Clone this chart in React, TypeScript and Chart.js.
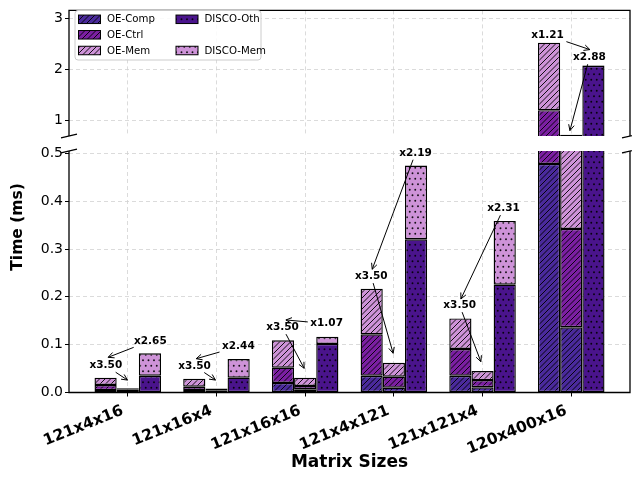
import React, { useEffect, useRef } from 'react';
import { Chart, registerables } from 'chart.js';

Chart.register(...registerables);

// ---------------- data ----------------
const categories = ['121x4x16', '121x16x4', '121x16x16', '121x4x121', '121x121x4', '120x400x16'];

// baseline OE bar (left bar of each group)
const oeComp = [0.005, 0.005, 0.020, 0.035, 0.035, 0.478];
const oeCtrl = [0.0107, 0.007, 0.032, 0.0867, 0.056, 0.728];
const oeMem = [0.0153, 0.0167, 0.057, 0.0953, 0.064, 1.324];

// optimised OE bar (middle bar of each group)
const optComp = [0.003, 0.0035, 0.0067, 0.010, 0.011, 0.1364];
const optCtrl = [0.0025, 0.0015, 0.0069, 0.023, 0.015, 0.2056];
const optMem = [0.0034, 0.0032, 0.0174, 0.029, 0.019, 0.381];

// DISCO bar (right bar of each group)
const discoOth = [0.035, 0.031, 0.1015, 0.3205, 0.2255, 2.075];
const discoMem = [0.047, 0.039, 0.0151, 0.154, 0.1333, 0.01];

const lowerTicks = [0, 0.1, 0.2, 0.3, 0.4, 0.5];
const upperTicks = [1, 2, 3];
const lowerLimits = [0, 0.505];
const upperLimits = [0.7, 3.1625];
const xLimits = [-0.6625, 5.6625];

// annotations (text position + arrow head, in data units)
const lowerNotes = [
  { label: 'x3.50', tx: -0.247, ty: 0.056, hx: -0.003, hy: 0.026 },
  { label: 'x2.65', tx: 0.255, ty: 0.108, hx: -0.221, hy: 0.0736 },
  { label: 'x3.50', tx: 0.753, ty: 0.0554, hx: 0.989, hy: 0.026 },
  { label: 'x2.44', tx: 1.247, ty: 0.0958, hx: 0.772, hy: 0.0707 },
  { label: 'x3.50', tx: 1.745, ty: 0.1356, hx: 1.989, hy: 0.0506 },
  { label: 'x1.07', tx: 2.242, ty: 0.144, hx: 1.783, hy: 0.1517 },
  { label: 'x3.50', tx: 2.746, ty: 0.2423, hx: 2.992, hy: 0.082 },
  { label: 'x2.19', tx: 3.244, ty: 0.5004, hx: 2.756, hy: 0.2577 },
  { label: 'x3.50', tx: 3.742, ty: 0.1816, hx: 3.981, hy: 0.0644 },
  { label: 'x2.31', tx: 4.236, ty: 0.3845, hx: 3.756, hy: 0.1956 },
];
const upperNotes = [
  { label: 'x1.21', tx: 4.733, ty: 2.675, hx: 5.21, hy: 2.394 },
  { label: 'x2.88', tx: 5.205, ty: 2.234, hx: 4.985, hy: 0.806 },
];

const legendEntries = [
  { label: 'OE-Comp', fill: 'comp', col: 0, row: 0 },
  { label: 'OE-Ctrl', fill: 'ctrl', col: 0, row: 1 },
  { label: 'OE-Mem', fill: 'mem', col: 0, row: 2 },
  { label: 'DISCO-Oth', fill: 'dOth', col: 1, row: 0 },
  { label: 'DISCO-Mem', fill: 'dMem', col: 1, row: 2 },
];

// ---------------- styles ----------------
const FONT = '"DejaVu Sans", sans-serif';
const GRID = '#d2d2d2';
const COLORS = {
  comp: '#4a2a9c',
  ctrl: '#7b1fa2',
  mem: '#ce93d8',
  dOth: '#4a148c',
  dMem: '#ce93d8',
};

function makeFill(color: string, kind: 'hatch' | 'dots'): any {
  const s = 11;
  const c = document.createElement('canvas');
  c.width = s;
  c.height = s;
  const g = c.getContext('2d');
  if (!g) return color;
  g.fillStyle = color;
  g.fillRect(0, 0, s, s);
  if (kind === 'hatch') {
    g.strokeStyle = 'rgba(0,0,0,0.9)';
    g.lineWidth = 1;
    g.beginPath();
    for (const k of [0, 5.5, 11, 16.5, 22]) {
      g.moveTo(-2, k + 2);
      g.lineTo(k + 2, -2);
    }
    g.stroke();
  } else {
    g.fillStyle = 'rgba(0,0,0,0.9)';
    const pts = [
      [2.75, 2.75], [8.25, 2.75],
      [0, 8.25], [5.5, 8.25], [11, 8.25],
    ];
    for (const [x, y] of pts) {
      g.beginPath();
      g.arc(x, y, 0.95, 0, Math.PI * 2);
      g.fill();
    }
  }
  return g.createPattern(c, 'repeat') || color;
}

function buildDatasets(f: any) {
  const mk = (label: string, vals: number[], stack: string, fill: any) => ({
    label,
    stack,
    data: vals.map((v, i) => ({ x: i, y: v })),
    backgroundColor: fill,
    borderColor: '#000',
    borderWidth: 1.4,
    borderSkipped: false,
    categoryPercentage: 0.75,
    barPercentage: 1,
    clip: 0,
  });
  return [
    mk('OE-Comp', oeComp, 'oe', f.comp),
    mk('OE-Ctrl', oeCtrl, 'oe', f.ctrl),
    mk('OE-Mem', oeMem, 'oe', f.mem),
    mk('OE-Comp (opt)', optComp, 'opt', f.comp),
    mk('OE-Ctrl (opt)', optCtrl, 'opt', f.ctrl),
    mk('OE-Mem (opt)', optMem, 'opt', f.mem),
    mk('DISCO-Oth', discoOth, 'disco', f.dOth),
    mk('DISCO-Mem', discoMem, 'disco', f.dMem),
  ];
}

function xScale(showLabels: boolean) {
  return {
    type: 'linear',
    min: xLimits[0],
    max: xLimits[1],
    bounds: 'data',
    offset: false,
    afterBuildTicks: (s: any) => {
      s.ticks = categories.map((_, i) => ({ value: i }));
    },
    afterFit: (s: any) => {
      s.height = showLabels ? 80.7 : 0;
    },
    grid: {
      offset: false,
      color: GRID,
      lineWidth: 0.8,
      drawTicks: showLabels,
      tickLength: 4,
      tickColor: '#000',
      tickWidth: 1,
    },
    border: { display: false, dash: [4, 3] },
    ticks: {
      display: showLabels,
      autoSkip: false,
      minRotation: 22,
      maxRotation: 22,
      padding: 5,
      labelOffset: -5,
      color: '#000',
      font: { family: FONT, weight: 'bold', size: 15.5 },
      callback: (v: any) => categories[v] ?? '',
    },
    title: showLabels
      ? {
          display: true,
          text: 'Matrix Sizes',
          color: '#000',
          font: { family: FONT, weight: 'bold', size: 17 },
          padding: 0,
        }
      : { display: false },
  };
}

function yScale(lim: number[], tickVals: number[], fmt: (v: number) => string) {
  return {
    type: 'linear',
    min: lim[0],
    max: lim[1],
    stacked: true,
    bounds: 'data',
    afterBuildTicks: (s: any) => {
      s.ticks = tickVals.map((v) => ({ value: v }));
    },
    afterFit: (s: any) => {
      s.width = 69;
    },
    grid: {
      color: GRID,
      lineWidth: 0.8,
      drawTicks: true,
      tickLength: 4,
      tickColor: '#000',
      tickWidth: 1,
    },
    border: { display: false, dash: [4, 3] },
    ticks: {
      padding: 2,
      color: '#000',
      font: { family: FONT, size: 14 },
      callback: (v: any) => fmt(Number(v)),
    },
  };
}

function framePlugin(panel: 'upper' | 'lower') {
  return {
    id: 'frame-' + panel,
    afterDatasetsDraw(chart: any) {
      const { ctx } = chart;
      const { left, right, top, bottom } = chart.chartArea;
      ctx.save();
      ctx.strokeStyle = '#000';
      ctx.lineWidth = 1.3;
      ctx.setLineDash([]);
      ctx.beginPath();
      if (panel === 'upper') {
        ctx.moveTo(left, bottom);
        ctx.lineTo(left, top);
        ctx.lineTo(right, top);
        ctx.lineTo(right, bottom);
      } else {
        ctx.moveTo(left, top);
        ctx.lineTo(left, bottom);
        ctx.lineTo(right, bottom);
        ctx.lineTo(right, top);
      }
      ctx.stroke();
      const cy = panel === 'upper' ? bottom : top;
      ctx.lineWidth = 1.2;
      ctx.beginPath();
      for (const cx of [left, right]) {
        ctx.moveTo(cx - 8, cy + 1.8);
        ctx.lineTo(cx + 8, cy - 1.8);
      }
      ctx.stroke();
      ctx.restore();
    },
  };
}

function notesPlugin(id: string, notes: typeof lowerNotes) {
  return {
    id,
    afterDatasetsDraw(chart: any) {
      const { ctx } = chart;
      const xs = chart.scales.x;
      const ys = chart.scales.y;
      ctx.save();
      ctx.font = 'bold 10.5px ' + FONT;
      ctx.textAlign = 'center';
      ctx.textBaseline = 'middle';
      ctx.strokeStyle = '#000';
      ctx.fillStyle = '#000';
      ctx.lineWidth = 1;
      for (const n of notes) {
        const tx = xs.getPixelForValue(n.tx);
        const ty = ys.getPixelForValue(n.ty);
        const hx = xs.getPixelForValue(n.hx);
        const hy = ys.getPixelForValue(n.hy);
        const w = ctx.measureText(n.label).width + 5;
        const h = 13;
        const dx = hx - tx;
        const dy = hy - ty;
        const s = Math.min(w / 2 / Math.max(Math.abs(dx), 1e-6), h / 2 / Math.max(Math.abs(dy), 1e-6));
        const sx = tx + dx * s;
        const sy = ty + dy * s;
        ctx.beginPath();
        ctx.moveTo(sx, sy);
        ctx.lineTo(hx, hy);
        ctx.stroke();
        const ang = Math.atan2(hy - sy, hx - sx);
        const L = 6.5;
        const sp = 0.45;
        ctx.beginPath();
        ctx.moveTo(hx - L * Math.cos(ang - sp), hy - L * Math.sin(ang - sp));
        ctx.lineTo(hx, hy);
        ctx.lineTo(hx - L * Math.cos(ang + sp), hy - L * Math.sin(ang + sp));
        ctx.stroke();
        ctx.fillText(n.label, tx, ty);
      }
      ctx.restore();
    },
  };
}

function legendPlugin(fills: any) {
  return {
    id: 'custom-legend',
    afterDraw(chart: any) {
      const { ctx } = chart;
      ctx.save();
      const x0 = 75, y0 = 10.5, w = 186, h = 49.5, r = 3;
      ctx.beginPath();
      ctx.moveTo(x0 + r, y0);
      ctx.lineTo(x0 + w - r, y0);
      ctx.arcTo(x0 + w, y0, x0 + w, y0 + r, r);
      ctx.lineTo(x0 + w, y0 + h - r);
      ctx.arcTo(x0 + w, y0 + h, x0 + w - r, y0 + h, r);
      ctx.lineTo(x0 + r, y0 + h);
      ctx.arcTo(x0, y0 + h, x0, y0 + h - r, r);
      ctx.lineTo(x0, y0 + r);
      ctx.arcTo(x0, y0, x0 + r, y0, r);
      ctx.closePath();
      ctx.fillStyle = 'rgba(255,255,255,0.85)';
      ctx.fill();
      ctx.strokeStyle = '#cccccc';
      ctx.lineWidth = 1;
      ctx.stroke();
      const rowsY = [19.3, 34.8, 50.5];
      const colX = [78.5, 176];
      ctx.font = '10.2px ' + FONT;
      ctx.textAlign = 'left';
      ctx.textBaseline = 'middle';
      for (const e of legendEntries) {
        const px = colX[e.col];
        const py = rowsY[e.row];
        ctx.fillStyle = fills[e.fill];
        ctx.fillRect(px, py - 4.25, 22, 8.5);
        ctx.strokeStyle = '#000';
        ctx.lineWidth = 1;
        ctx.strokeRect(px, py - 4.25, 22, 8.5);
        ctx.fillStyle = '#000';
        ctx.fillText(e.label, px + 28.5, py + 0.5);
      }
      ctx.restore();
    },
  };
}

const yTitlePlugin = {
  id: 'y-title',
  afterDraw(chart: any) {
    const { ctx } = chart;
    ctx.save();
    ctx.translate(17.5, 227);
    ctx.rotate(-Math.PI / 2);
    ctx.font = 'bold 15.5px ' + FONT;
    ctx.fillStyle = '#000';
    ctx.textAlign = 'center';
    ctx.textBaseline = 'middle';
    ctx.fillText('Time (ms)', 0, 0);
    ctx.restore();
  },
};

export default function App() {
  const upRef = useRef<HTMLCanvasElement>(null);
  const lowRef = useRef<HTMLCanvasElement>(null);

  useEffect(() => {
    if (!upRef.current || !lowRef.current) return;
    const fills: any = {
      comp: makeFill(COLORS.comp, 'hatch'),
      ctrl: makeFill(COLORS.ctrl, 'hatch'),
      mem: makeFill(COLORS.mem, 'hatch'),
      dOth: makeFill(COLORS.dOth, 'dots'),
      dMem: makeFill(COLORS.dMem, 'dots'),
    };

    const common = {
      responsive: false,
      devicePixelRatio: 1,
      animation: false,
      events: [],
    };

    const upper = new Chart(upRef.current, {
      type: 'bar',
      data: { datasets: buildDatasets(fills) as any },
      options: {
        ...common,
        layout: { padding: { left: 0, right: 2, top: 4.5, bottom: 342 } },
        scales: {
          x: xScale(false) as any,
          y: yScale(upperLimits, upperTicks, (v) => String(Math.round(v))) as any,
        },
        plugins: { legend: { display: false }, tooltip: { enabled: false } },
      } as any,
      plugins: [framePlugin('upper'), notesPlugin('notes-up', upperNotes), legendPlugin(fills)],
    });

    const lower = new Chart(lowRef.current, {
      type: 'bar',
      data: { datasets: buildDatasets(fills) as any },
      options: {
        ...common,
        layout: { padding: { left: 0, right: 2, top: 151, bottom: 4.8 } },
        scales: {
          x: xScale(true) as any,
          y: yScale(lowerLimits, lowerTicks, (v) => v.toFixed(1)) as any,
        },
        plugins: { legend: { display: false }, tooltip: { enabled: false } },
      } as any,
      plugins: [framePlugin('lower'), notesPlugin('notes-low', lowerNotes), yTitlePlugin],
    });

    return () => {
      upper.destroy();
      lower.destroy();
    };
  }, []);

  return (
    <div style={{ position: 'fixed', left: 0, top: 0, width: 632, height: 478, background: '#fff' }}>
      <canvas ref={upRef} width={632} height={478} style={{ position: 'absolute', left: 0, top: 0, width: 632, height: 478 }} />
      <canvas ref={lowRef} width={632} height={478} style={{ position: 'absolute', left: 0, top: 0, width: 632, height: 478 }} />
    </div>
  );
}
